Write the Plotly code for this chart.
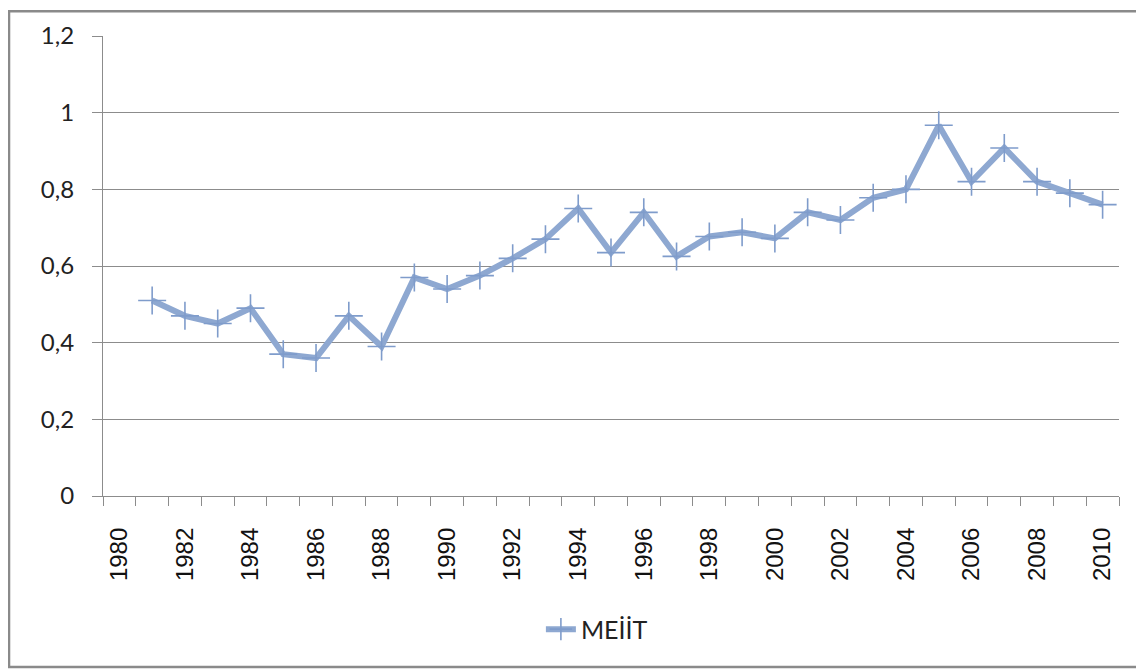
import plotly.graph_objects as go

# MEİİT series, 1981-2010 (1980 has no value)
years = list(range(1981, 2011))
meiit = [0.51, 0.47, 0.45, 0.49, 0.37, 0.36, 0.47, 0.39, 0.57, 0.54,
         0.575, 0.62, 0.67, 0.75, 0.635, 0.74, 0.625, 0.677, 0.688, 0.672,
         0.74, 0.72, 0.778, 0.80, 0.967, 0.82, 0.908, 0.82, 0.79, 0.76]
year_labels = list(range(1980, 2011, 2))
y_ticks = [0, 0.2, 0.4, 0.6, 0.8, 1.0, 1.2]
y_tick_text = ["0", "0,2", "0,4", "0,6", "0,8", "1", "1,2"]

line_color = "#8EA8D1"
grid_color = "#8C8C8C"

fig = go.Figure()
fig.add_trace(go.Scatter(
    x=years, y=meiit, mode="lines+markers", name="MEİİT",
    line=dict(color=line_color, width=6),
    marker=dict(symbol="cross-thin", size=20, color=line_color,
                line=dict(color="#7F9CCB", width=1.6)),
))

# page body adds an 8px margin, so the figure is a bit smaller than the window
fig.update_layout(
    width=1136, height=661,
    margin=dict(l=95, r=25, t=26, b=173),
    paper_bgcolor="white", plot_bgcolor="white",
    showlegend=True,
    legend=dict(orientation="h", x=0.431, y=-0.29, xanchor="left", yanchor="middle",
                font=dict(family="Lato", size=25, color="#222222")),
    xaxis=dict(
        range=[1979.5, 2010.5],
        tickmode="array", tickvals=year_labels, ticktext=[str(v) for v in year_labels],
        tickangle=-90, ticks="outside", ticklen=9, tickcolor="rgba(0,0,0,0)",
        tickfont=dict(family="Liberation Sans", size=24, color="#111111"),
        ticklabelstandoff=12,
        showgrid=False, zeroline=False,
        showline=True, linecolor=grid_color, linewidth=1.2,
        minor=dict(tick0=1979.5, dtick=1, ticks="outside", ticklen=9,
                   tickcolor=grid_color, tickwidth=1.2, showgrid=False),
    ),
    yaxis=dict(
        range=[0, 1.2],
        tickmode="array", tickvals=y_ticks, ticktext=y_tick_text,
        ticks="outside", ticklen=10, tickcolor=grid_color, tickwidth=1.2,
        tickfont=dict(family="Lato", size=24, color="#222222"),
        ticklabelstandoff=13,
        showgrid=True, gridcolor=grid_color, gridwidth=1.2,
        zeroline=False,
        showline=True, linecolor=grid_color, linewidth=1.2,
    ),
)

# outer chart border (cropped on the right, as in the source image)
fig.add_shape(type="rect", xref="paper", yref="paper",
              x0=-0.0925, x1=1.1, y0=-0.372, y1=1.054,
              line=dict(color="#8A8A8A", width=2.5), fillcolor="rgba(0,0,0,0)",
              layer="below")

fig.write_html("out.html")
